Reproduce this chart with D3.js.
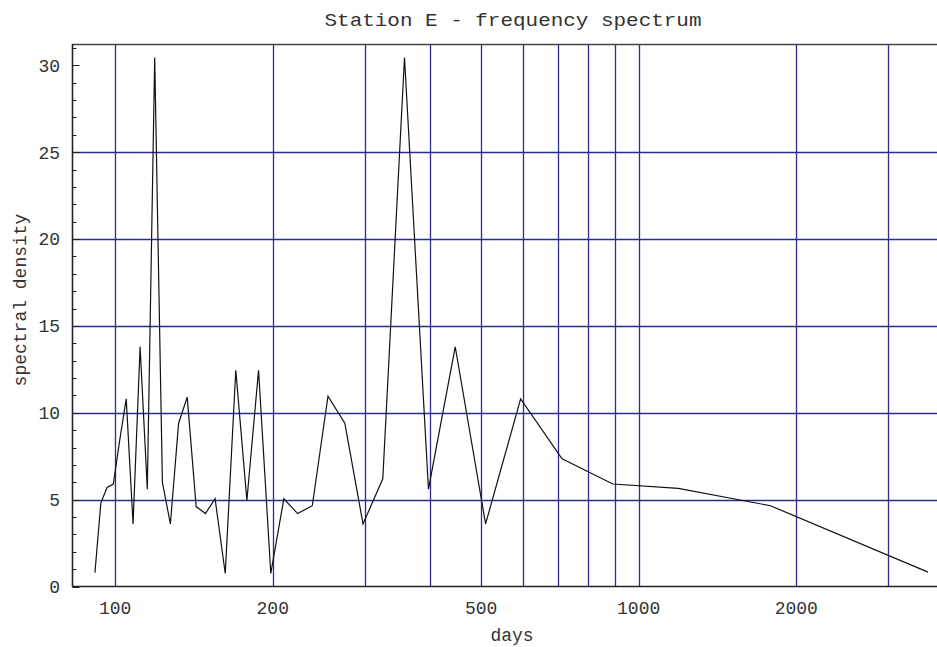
<!DOCTYPE html>
<html>
<head>
<meta charset="utf-8">
<script src="https://cdn.jsdelivr.net/npm/d3@7"></script>
<style>
  html, body { margin: 0; padding: 0; background: #fff; }
  svg { display: block; }
  text { font-family: "Liberation Mono", "Courier New", monospace; fill: #333; }
</style>
</head>
<body>
<svg id="chart" width="937" height="647"></svg>
<script>
// Periods (days) of the spectral estimates
const periods = [91.5, 93.9, 96.5, 99.2, 102.0, 105.0, 108.2, 111.6, 115.2, 119.0,
  123.1, 127.5, 132.2, 137.3, 142.8, 148.75, 155.2, 162.3, 170.0, 178.5,
  187.9, 198.3, 210.0, 223.1, 238.0, 255.0, 274.6, 297.5, 324.5, 357.0,
  396.7, 446.25, 510.0, 595.0, 714.0, 892.5, 1190, 1785, 3570];
// Spectral density values
const density = [0.8, 4.8, 5.7, 5.9, 8.4, 10.8, 3.6, 13.8, 5.6, 30.45,
  6.0, 3.6, 9.4, 10.9, 4.6, 4.2, 5.05, 0.75, 12.45, 4.95,
  12.45, 0.75, 5.05, 4.2, 4.65, 10.95, 9.4, 3.6, 6.2, 30.45,
  5.6, 13.8, 3.6, 10.8, 7.35, 5.9, 5.65, 4.65, 0.83];

const xGrid = [100, 200, 300, 400, 500, 600, 700, 800, 900, 1000, 2000, 3000];
const xTickLabels = [100, 200, 500, 1000, 2000];
const yMajor = [0, 5, 10, 15, 20, 25, 30];
const yGrid = [5, 10, 15, 20, 25];
const yMinor = d3.range(0, 32, 1);

const title = "Station E - frequency spectrum";
const xTitle = "days";
const yTitle = "spectral density";

const svg = d3.select("#chart");
const L = 72.5, R = 940, T = 44.5, B = 586.5;

const x = d3.scaleLog().domain([82.9, 3763]).range([L, R]);
const y = d3.scaleLinear().domain([0, 31.2]).range([B, T]);

const gridColor = "#2b2b91";

// horizontal grid lines
svg.append("g").selectAll("line").data(yGrid).join("line")
  .attr("x1", L).attr("x2", R)
  .attr("y1", d => Math.round(y(d)) + 0.5).attr("y2", d => Math.round(y(d)) + 0.5)
  .attr("stroke", gridColor).attr("stroke-width", 1.3);

// vertical grid lines
svg.append("g").selectAll("line").data(xGrid).join("line")
  .attr("x1", d => Math.round(x(d)) + 0.5).attr("x2", d => Math.round(x(d)) + 0.5)
  .attr("y1", T).attr("y2", B)
  .attr("stroke", gridColor).attr("stroke-width", 1.3);

// minor ticks on left axis (inside)
svg.append("g").selectAll("line").data(yMinor).join("line")
  .attr("x1", L).attr("x2", d => L + (d % 5 === 0 ? 7 : 4))
  .attr("y1", d => Math.round(y(d)) + 0.5).attr("y2", d => Math.round(y(d)) + 0.5)
  .attr("stroke", "#222").attr("stroke-width", 1);

// frame
svg.append("line").attr("x1", L - 0.5).attr("x2", R).attr("y1", T).attr("y2", T)
  .attr("stroke", "#444").attr("stroke-width", 1.5);
svg.append("line").attr("x1", L - 0.5).attr("x2", R).attr("y1", B).attr("y2", B)
  .attr("stroke", "#222").attr("stroke-width", 1.6);
svg.append("line").attr("x1", L).attr("x2", L).attr("y1", T - 0.5).attr("y2", B + 0.5)
  .attr("stroke", "#222").attr("stroke-width", 1.6);

// data line
const pts = periods.map((p, i) => [p, density[i]]);
svg.append("path").datum(pts)
  .attr("fill", "none").attr("stroke", "#111").attr("stroke-width", 1.2)
  .attr("stroke-linejoin", "miter")
  .attr("d", d3.line().x(d => x(d[0])).y(d => y(d[1])));

// y tick labels
svg.append("g").selectAll("text").data(yMajor).join("text")
  .attr("x", 60).attr("y", d => y(d))
  .attr("dy", "0.35em").attr("text-anchor", "end")
  .style("font-size", "18px").text(d => d);

// x tick labels
svg.append("g").selectAll("text").data(xTickLabels).join("text")
  .attr("x", d => x(d)).attr("y", 608)
  .attr("dy", "0.35em").attr("text-anchor", "middle")
  .style("font-size", "18px").text(d => d);

// axis titles
svg.append("text").attr("x", 512).attr("y", 635).attr("dy", "0.35em")
  .attr("text-anchor", "middle").style("font-size", "18px").text(xTitle);
svg.append("text").attr("transform", "translate(20,300) rotate(-90)")
  .attr("dy", "0.35em").attr("text-anchor", "middle")
  .style("font-size", "18px").text(yTitle);

// chart title
svg.append("text").attr("x", 513).attr("y", 20).attr("dy", "0.35em")
  .attr("text-anchor", "middle").style("font-size", "18px")
  .attr("textLength", 377).attr("lengthAdjust", "spacingAndGlyphs")
  .text(title);
</script>
</body>
</html>
